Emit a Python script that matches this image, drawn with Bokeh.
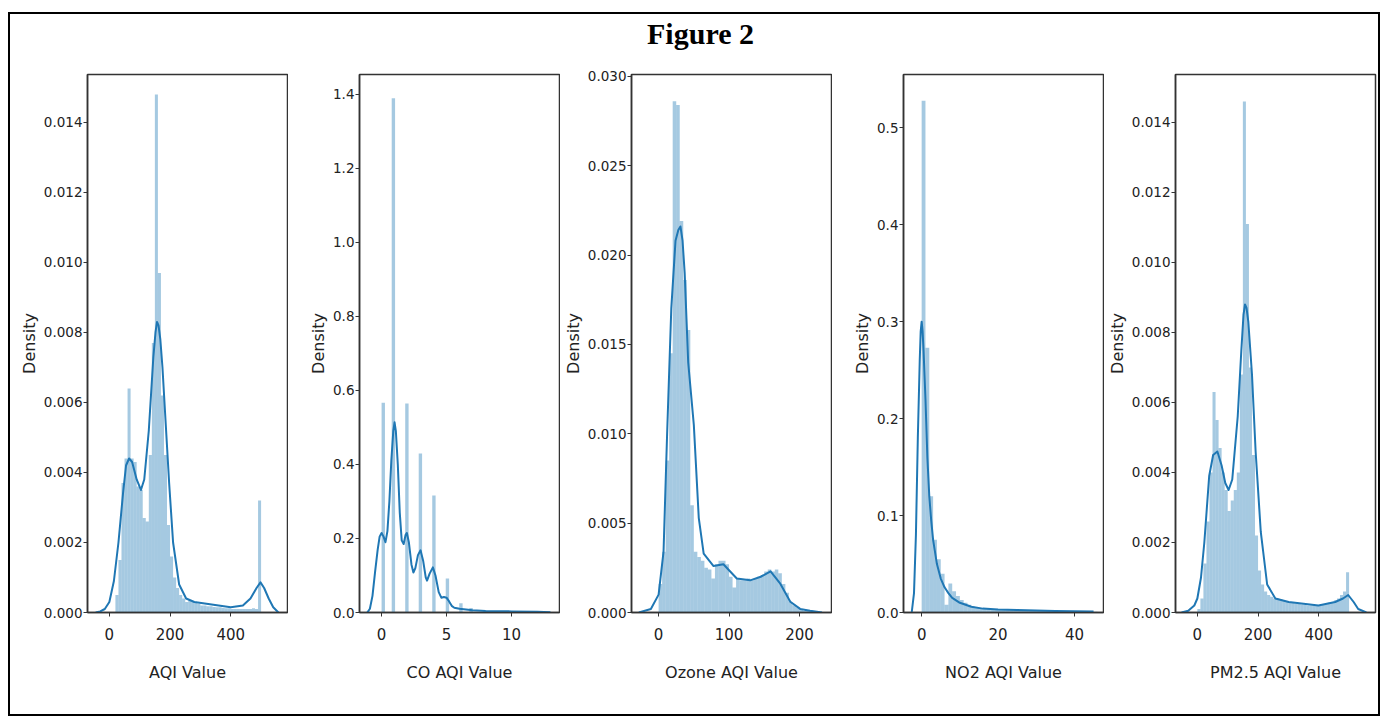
from bokeh.plotting import figure
from bokeh.layouts import row, column
from bokeh.models import Range1d, FixedTicker, NumeralTickFormatter
from bokeh.core.properties import value
from bokeh.embed import file_html
from bokeh.resources import INLINE

# ---------------- data ----------------
title_text = "Figure 2"
x_labels = ["AQI Value", "CO AQI Value", "Ozone AQI Value", "NO2 AQI Value", "PM2.5 AQI Value"]

# AQI Value histogram: bins of width 10 starting at 20
aqi_bin_start, aqi_bin_width = 20, 10
aqi_hist = [0.0005, 0.0015, 0.0037, 0.0044, 0.0064, 0.0044, 0.0043, 0.0036, 0.0035, 0.0027,
            0.0026, 0.0045, 0.0077, 0.0148, 0.0097, 0.0062, 0.0045, 0.0025, 0.0016, 0.0010,
            0.0007, 0.0005, 0.0004, 0.0003, 0.00035, 0.0003, 0.00028, 0.00025, 0.0002, 0.0002,
            0.00018, 0.00018, 0.00016, 0.00015, 0.00015, 0.00013, 0.00012, 0.00012, 0.0001, 0.0001,
            0.0001, 0.0001, 0.0001, 0.0001, 0.0001, 0.00012, 0.0001, 0.0032]
aqi_kde_x = [-45, -30, -15, 0, 15, 30, 45, 55, 65, 75, 90, 104, 115, 130, 145, 152, 157, 162, 168,
             175, 185, 197, 210, 230, 253, 280, 320, 360, 400, 440, 465, 485, 498, 510, 525, 540, 557]
aqi_kde_y = [0.0, 0.00003, 0.0001, 0.0003, 0.0009, 0.0020, 0.0034, 0.0042, 0.0044, 0.0043, 0.0038,
             0.0035, 0.0038, 0.0052, 0.0073, 0.0080, 0.0083, 0.0082, 0.0078, 0.0070, 0.0055, 0.0037,
             0.0020, 0.0008, 0.0004, 0.0003, 0.00025, 0.0002, 0.00015, 0.0002, 0.0004, 0.0007,
             0.00086, 0.0007, 0.0004, 0.00015, 0.0]

# CO AQI Value histogram: bins of width 0.26 at these left edges
co_bin_left = [0.0, 0.78, 1.82, 2.86, 3.90, 4.94, 5.98, 6.76, 7.80, 8.84, 9.88, 10.92, 11.96, 12.74]
co_bin_width = 0.26
co_hist = [0.567, 1.39, 0.565, 0.43, 0.316, 0.092, 0.025, 0.012, 0.006, 0.004, 0.003, 0.002, 0.002, 0.002]
co_kde_x = [-1.1, -0.9, -0.7, -0.5, -0.3, -0.15, 0.0, 0.15, 0.3, 0.45, 0.6, 0.75, 0.9, 1.0, 1.1,
            1.25, 1.4, 1.55, 1.7, 1.85, 1.95, 2.1, 2.3, 2.45, 2.6, 2.8, 3.0, 3.2, 3.4, 3.5, 3.7,
            3.95, 4.15, 4.4, 4.6, 4.8, 5.0, 5.2, 5.4, 5.6, 6.0, 6.5, 7, 8, 10, 12, 13]
co_kde_y = [0.0, 0.01, 0.045, 0.11, 0.17, 0.205, 0.215, 0.205, 0.19, 0.22, 0.30, 0.41, 0.49, 0.514,
            0.49, 0.40, 0.27, 0.195, 0.185, 0.21, 0.215, 0.19, 0.13, 0.108, 0.12, 0.155, 0.168,
            0.14, 0.095, 0.086, 0.105, 0.122, 0.10, 0.055, 0.04, 0.042, 0.04, 0.03, 0.018, 0.013,
            0.01, 0.008, 0.006, 0.004, 0.003, 0.002, 0.001]

# Ozone AQI Value histogram: bins of width 5 starting at 0
ozone_bin_start, ozone_bin_width = 0, 5
ozone_hist = [0.0016, 0.0034, 0.0085, 0.0145, 0.0286, 0.0284, 0.0219, 0.0186, 0.0158, 0.0060,
              0.0034, 0.0031, 0.0029, 0.0025, 0.0024, 0.0019, 0.0027, 0.0029, 0.0029, 0.0027,
              0.0020, 0.0014, 0.0019, 0.0018, 0.0018, 0.0019, 0.0018, 0.0019, 0.0020, 0.0021,
              0.0023, 0.0024, 0.0023, 0.0024, 0.0022, 0.0016, 0.0011, 0.0006, 0.0004, 0.0003,
              0.0002, 0.0001, 0.0001, 0.0001]
ozone_kde_x = [-28, -11, 0, 7, 12, 18, 24, 28, 31, 34, 37, 42, 50, 57, 64, 78, 92, 111, 130, 145,
               159, 173, 187, 201, 215, 232]
ozone_kde_y = [0.0, 0.0002, 0.001, 0.0034, 0.0099, 0.0170, 0.0208, 0.0214, 0.0216, 0.0208, 0.0190,
               0.0140, 0.0105, 0.0053, 0.0033, 0.0026, 0.0027, 0.0019, 0.0018, 0.0020, 0.0023,
               0.0016, 0.0006, 0.0002, 0.0001, 0.0]

# NO2 AQI Value histogram: bins of width 1 starting at 0
no2_bin_start, no2_bin_width = 0, 1
no2_hist = [0.528, 0.273, 0.12, 0.075, 0.055, 0.04, 0.008, 0.03, 0.022, 0.017, 0.013, 0.010, 0.008,
            0.006, 0.005, 0.0045, 0.004, 0.004, 0.0035, 0.0035, 0.003, 0.003, 0.003, 0.0028, 0.0026,
            0.0025, 0.0024, 0.0022, 0.002, 0.002, 0.0018, 0.0017, 0.0016, 0.0015, 0.0014, 0.0013,
            0.0012, 0.0012, 0.0011, 0.001, 0.001, 0.001, 0.0009, 0.0009, 0.0008, 0.0008]
no2_kde_x = [-2.6, -2.0, -1.5, -1.0, -0.5, -0.25, 0.0, 0.25, 0.5, 1.0, 1.5, 2.0, 2.5, 3, 4, 5, 6,
             7, 8, 10, 13, 16, 20, 25, 30, 35, 40, 45]
no2_kde_y = [0.0, 0.02, 0.08, 0.18, 0.26, 0.29, 0.30, 0.29, 0.27, 0.22, 0.16, 0.12, 0.095, 0.075,
             0.05, 0.035, 0.026, 0.02, 0.015, 0.01, 0.006, 0.004, 0.003, 0.0025, 0.002, 0.0015,
             0.0012, 0.001]

# PM2.5 AQI Value histogram: bins of width 10 starting at 0
pm_bin_start, pm_bin_width = 0, 10
pm_hist = [0.0001, 0.0004, 0.0014, 0.0026, 0.0040, 0.0063, 0.0055, 0.0047, 0.0040, 0.0035,
           0.0029, 0.0032, 0.0035, 0.0040, 0.0068, 0.0146, 0.0111, 0.0070, 0.0045, 0.0022,
           0.0012, 0.0008, 0.0006, 0.0005, 0.00045, 0.0004, 0.0004, 0.00038, 0.00035, 0.00032,
           0.0003, 0.00028, 0.00026, 0.00025, 0.00023, 0.00022, 0.0002, 0.0002, 0.0002, 0.0002,
           0.0002, 0.00022, 0.00025, 0.00028, 0.0003, 0.00035, 0.0004, 0.0005, 0.0006, 0.00115]
pm_kde_x = [-52, -30, -10, 0, 12, 23, 39, 52, 66, 80, 92, 103, 115, 133, 145, 152, 157, 162, 168,
            180, 192, 209, 230, 257, 301, 350, 399, 454, 480, 497, 515, 530, 557]
pm_kde_y = [0.0, 0.00005, 0.0002, 0.0004, 0.0010, 0.0020, 0.0039, 0.0045, 0.0046, 0.0042, 0.0037,
            0.0035, 0.0038, 0.0056, 0.0075, 0.0085, 0.0088, 0.0087, 0.0083, 0.0068, 0.0046, 0.0023,
            0.0008, 0.0004, 0.0003, 0.00025, 0.0002, 0.0003, 0.0004, 0.0005, 0.0003, 0.0001, 0.0]

x_ranges = [(-72, 587), (-1.7, 13.7), (-38.5, 245.5), (-4.75, 47.6), (-72, 587)]
y_ranges = [(0, 0.01537), (0, 1.454), (0, 0.0301), (0, 0.555), (0, 0.01537)]
x_ticks = [[0, 200, 400], [0, 5, 10], [0, 100, 200], [0, 20, 40], [0, 200, 400]]
y_ticks = [[0.0, 0.002, 0.004, 0.006, 0.008, 0.010, 0.012, 0.014],
           [0.0, 0.2, 0.4, 0.6, 0.8, 1.0, 1.2, 1.4],
           [0.0, 0.005, 0.010, 0.015, 0.020, 0.025, 0.030],
           [0.0, 0.1, 0.2, 0.3, 0.4, 0.5],
           [0.0, 0.002, 0.004, 0.006, 0.008, 0.010, 0.012, 0.014]]
y_formats = ["0.000", "0.0", "0.000", "0.0", "0.000"]

# ---------------- build ----------------
def regular_edges(start, width, n):
    lefts = [start + width * i for i in range(n)]
    return lefts, [l + width for l in lefts]

hists = [
    regular_edges(aqi_bin_start, aqi_bin_width, len(aqi_hist)) + (aqi_hist,),
    (co_bin_left, [l + co_bin_width for l in co_bin_left], co_hist),
    regular_edges(ozone_bin_start, ozone_bin_width, len(ozone_hist)) + (ozone_hist,),
    regular_edges(no2_bin_start, no2_bin_width, len(no2_hist)) + (no2_hist,),
    regular_edges(pm_bin_start, pm_bin_width, len(pm_hist)) + (pm_hist,),
]
kdes = [(aqi_kde_x, aqi_kde_y), (co_kde_x, co_kde_y), (ozone_kde_x, ozone_kde_y),
        (no2_kde_x, no2_kde_y), (pm_kde_x, pm_kde_y)]

FONT = "DejaVu Sans"
SPINE = "#333333"
BLUE = "#1f77b4"
INNER_W = 1368

# title strip
tp = figure(width=INNER_W, height=50, x_range=Range1d(0, INNER_W), y_range=Range1d(0, 50),
            min_border=0, output_backend="svg", toolbar_location=None)
tp.title.visible = False
tp.axis.visible = False
tp.grid.visible = False
tp.outline_line_color = None
tp.background_fill_color = "white"
tp.border_fill_color = "white"
tp.text(x=[690], y=[31.5], text=[title_text], text_font=value("Liberation Serif"),
        text_font_size="30px", text_font_style="bold", text_color="black",
        text_align="center", text_baseline="alphabetic")

figs = []
for i in range(5):
    left_border = 77 if i == 0 else 71
    right_border = 3 if i == 4 else 1
    p = figure(frame_width=200, frame_height=538,
               min_border_left=left_border, min_border_right=right_border,
               min_border_top=10, min_border_bottom=102,
               x_range=Range1d(*x_ranges[i]), y_range=Range1d(*y_ranges[i]),
               output_backend="svg", toolbar_location=None)
    p.grid.visible = False
    p.outline_line_color = SPINE
    p.outline_line_width = 1.5
    p.background_fill_color = "white"
    p.border_fill_color = "white"

    lefts, rights, tops = hists[i]
    p.quad(left=lefts, right=rights, bottom=0, top=tops,
           fill_color=BLUE, fill_alpha=0.4, line_color=None)
    p.line(kdes[i][0], kdes[i][1], line_color=BLUE, line_width=2, line_join="round")

    for ax in (p.xaxis[0], p.yaxis[0]):
        ax.axis_line_color = SPINE
        ax.axis_line_width = 1.5
        ax.major_tick_line_color = SPINE
        ax.major_tick_out = 4
        ax.major_tick_in = 0
        ax.minor_tick_line_color = None
        ax.major_label_text_font = FONT
        ax.major_label_text_color = "#222222"
        ax.axis_label_text_font = FONT
        ax.axis_label_text_font_style = "normal"
        ax.axis_label_text_color = "#222222"

    p.xaxis.ticker = FixedTicker(ticks=x_ticks[i])
    p.xaxis.formatter = NumeralTickFormatter(format="0")
    p.xaxis.axis_label = x_labels[i]
    p.xaxis.major_label_text_font_size = "15px"
    p.xaxis.axis_label_text_font_size = "16px"
    p.xaxis.major_label_standoff = 11
    p.xaxis.axis_label_standoff = 20

    p.yaxis.ticker = FixedTicker(ticks=y_ticks[i])
    p.yaxis.formatter = NumeralTickFormatter(format=y_formats[i])
    p.yaxis.axis_label = "Density"
    p.yaxis.major_label_text_font_size = "13.5px"
    p.yaxis.axis_label_text_font_size = "16px"
    p.yaxis.major_label_standoff = 1
    p.yaxis.axis_label_standoff = 2
    figs.append(p)

layout = column(tp, row(*figs, spacing=0), spacing=0,
                styles={"position": "absolute", "left": "8px", "top": "12px",
                        "border": "2px solid black", "box-sizing": "content-box",
                        "background": "white"})

open("out.html", "w").write(file_html(layout, INLINE))
